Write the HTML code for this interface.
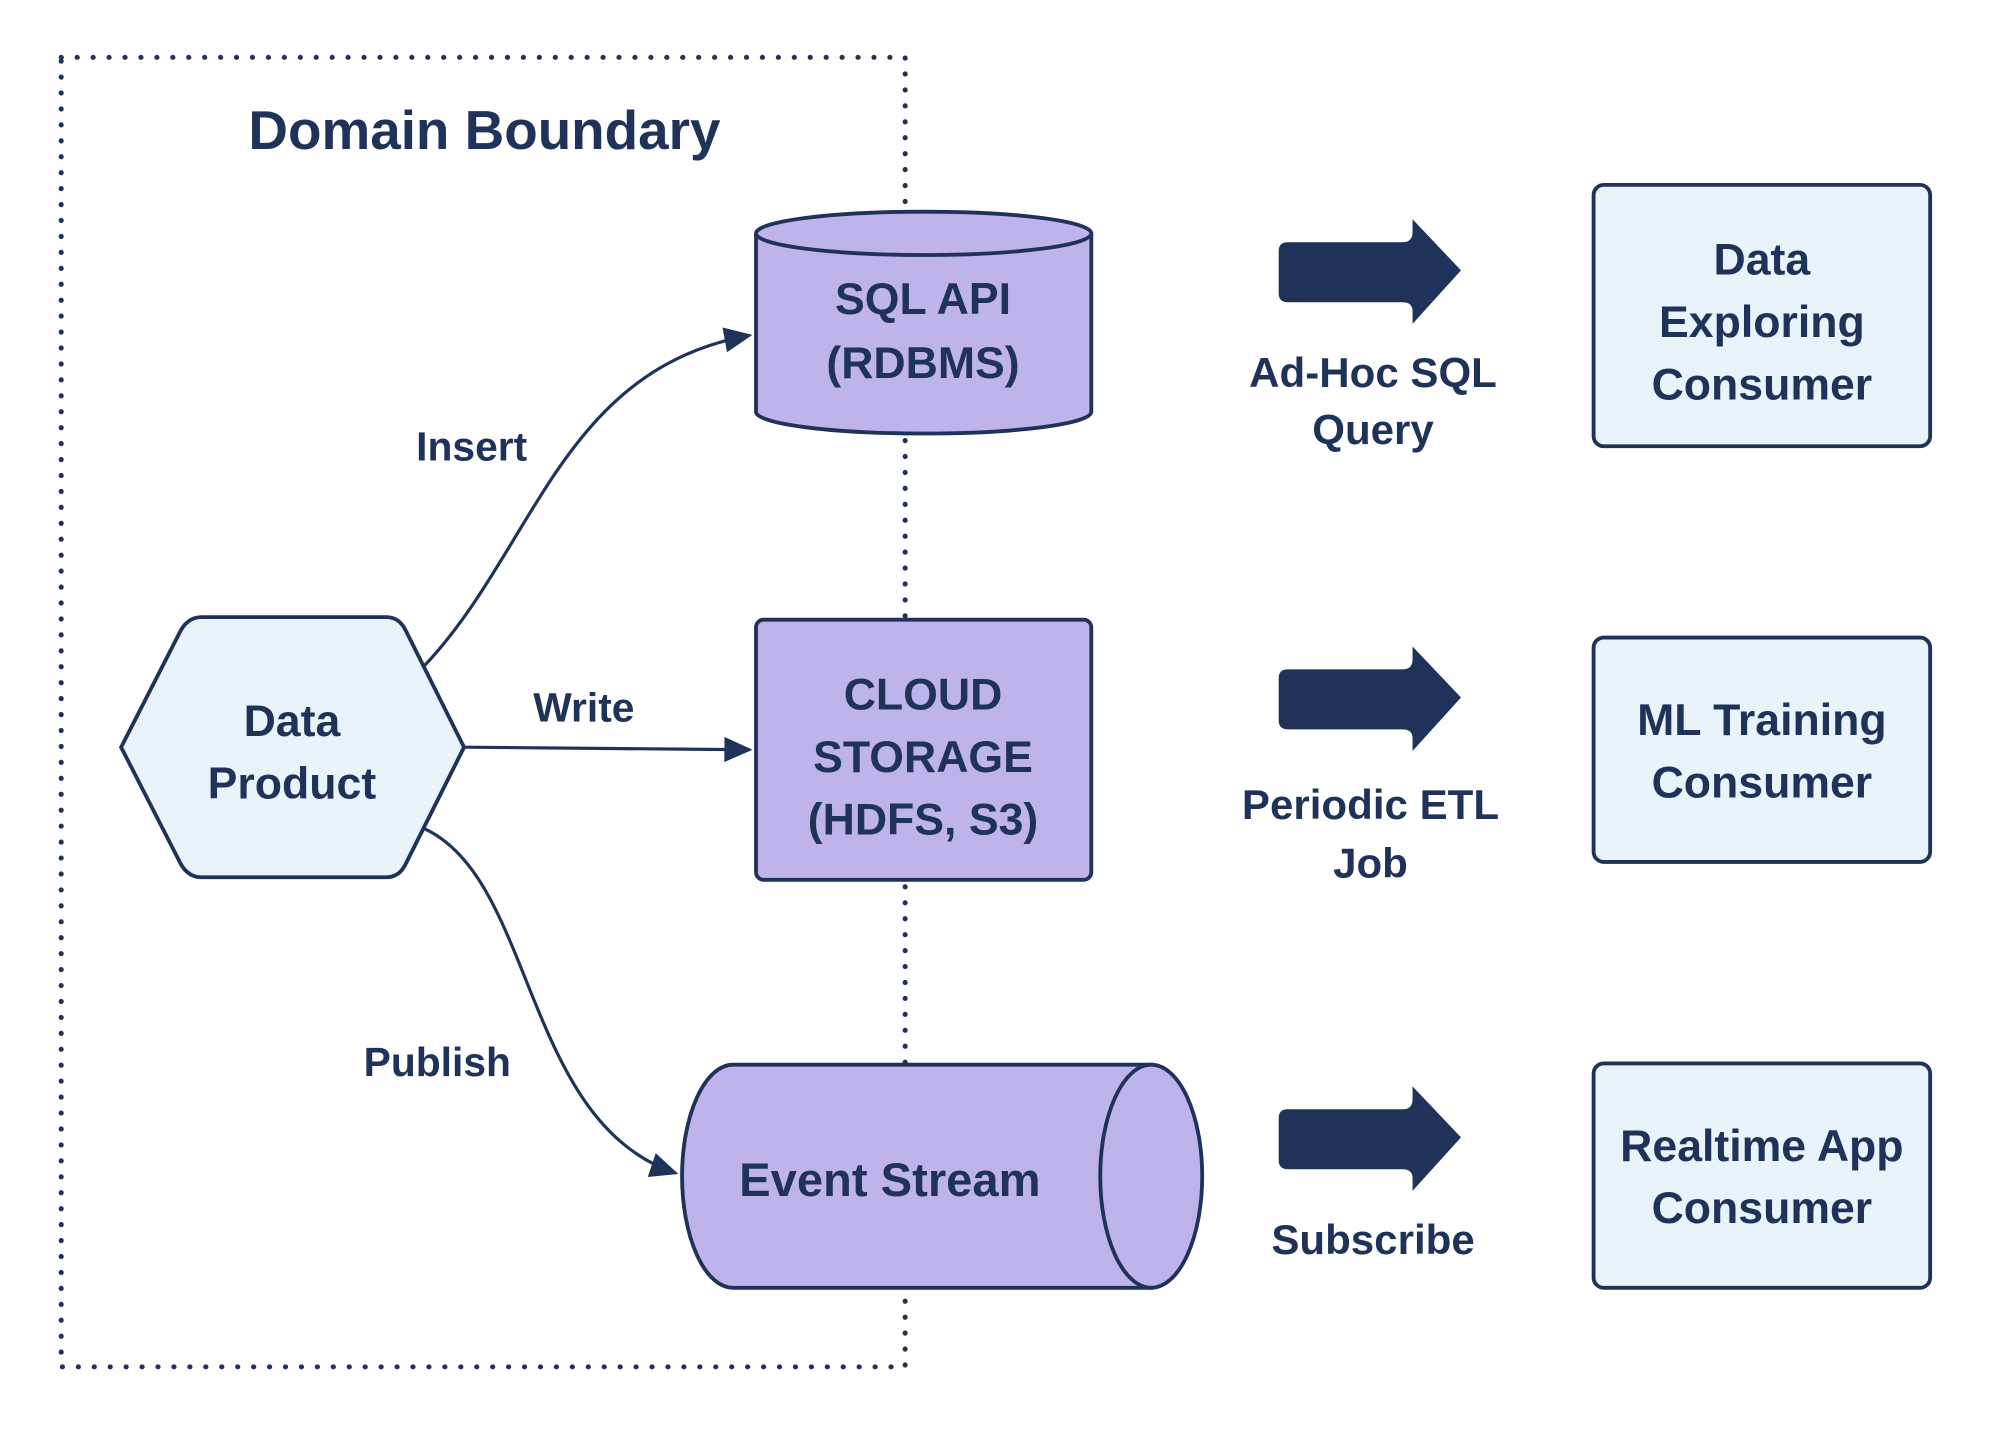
<!DOCTYPE html>
<html><head><meta charset="utf-8"><style>
html,body{margin:0;padding:0;background:#fff}
svg{display:block}
text{font-family:"Liberation Sans",sans-serif;font-weight:bold;fill:#1f3259;text-anchor:middle;dominant-baseline:central}
</style></head><body>
<svg width="1999" height="1437" viewBox="0 0 1568 1127" preserveAspectRatio="none" xmlns="http://www.w3.org/2000/svg">
<defs>
<marker id="ah2" viewBox="0 0 10 10" refX="9" refY="5" markerWidth="26" markerHeight="22" markerUnits="userSpaceOnUse" orient="auto">
<path d="M0,0.5 L10,5 L0,9.5 z" fill="#1f3259"/></marker>
</defs>
<rect width="1568" height="1127" fill="#fff"/>
<path d="M48,45 H710 V1072 H48 Z" fill="none" stroke="#1f3259" stroke-width="4" stroke-dasharray="0.1 12.4" stroke-linecap="round"/>
<text x="380" y="102" font-size="43">Domain Boundary</text>

<path d="M333,522 C420,430 440,290 588,263" fill="none" stroke="#1f3259" stroke-width="2.5" marker-end="url(#ah2)"/>
<path d="M364,586 L588,588" fill="none" stroke="#1f3259" stroke-width="2.5" marker-end="url(#ah2)"/>
<path d="M333,650 C420,690 410,880 530,920" fill="none" stroke="#1f3259" stroke-width="2.5" marker-end="url(#ah2)"/>
<text x="370" y="350" font-size="32">Insert</text>
<text x="458" y="555" font-size="32">Write</text>
<text x="343" y="833" font-size="32">Publish</text>

<path d="M95,586 L142,494 Q148,484 158,484 L303,484 Q313,484 318,494 L364,586 L318,678 Q313,688 303,688 L158,688 Q148,688 142,678 Z" fill="#e8f3fa" stroke="#1f3259" stroke-width="3"/>
<text x="229" y="566" font-size="35">Data</text>
<text x="229" y="615" font-size="35">Product</text>

<path d="M593,183 V323 A131.5,17 0 0 0 856,323 V183" fill="#bfb3ec" stroke="#1f3259" stroke-width="3"/>
<ellipse cx="724.5" cy="183" rx="131.5" ry="17" fill="#bfb3ec" stroke="#1f3259" stroke-width="3"/>
<text x="724" y="235" font-size="35">SQL API</text>
<text x="724" y="285" font-size="35">(RDBMS)</text>

<rect x="593" y="486" width="263" height="204" rx="6" fill="#bfb3ec" stroke="#1f3259" stroke-width="3"/>
<text x="724" y="545" font-size="35">CLOUD</text>
<text x="724" y="594" font-size="35">STORAGE</text>
<text x="724" y="643" font-size="35">(HDFS, S3)</text>

<path d="M575,835 H903 V1010 H575 A40,87.5 0 0 1 575,835 Z" fill="#bfb3ec" stroke="#1f3259" stroke-width="3"/>
<ellipse cx="903" cy="922.5" rx="40" ry="87.5" fill="#bfb3ec" stroke="#1f3259" stroke-width="3"/>
<text x="698" y="925" font-size="37">Event Stream</text>

<g fill="#1f3259">
<path d="M1010,190 H1100 Q1108,190 1108,182 V172 L1146,212 L1108,254 V244 Q1108,237 1100,237 H1010 Q1003,237 1003,230 V197 Q1003,190 1010,190 Z"/>
<path d="M1010,525 H1100 Q1108,525 1108,517 V507 L1146,547 L1108,589 V579 Q1108,572 1100,572 H1010 Q1003,572 1003,565 V532 Q1003,525 1010,525 Z"/>
<path d="M1010,870 H1100 Q1108,870 1108,862 V852 L1146,892 L1108,934 V924 Q1108,917 1100,917 H1010 Q1003,917 1003,910 V877 Q1003,870 1010,870 Z"/>
</g>
<text x="1077" y="292" font-size="33">Ad-Hoc SQL</text>
<text x="1077" y="337" font-size="33">Query</text>
<text x="1075" y="631" font-size="33">Periodic ETL</text>
<text x="1075" y="677" font-size="33">Job</text>
<text x="1077" y="972" font-size="33">Subscribe</text>

<rect x="1250" y="145" width="264" height="205" rx="8" fill="#e8f3fa" stroke="#1f3259" stroke-width="3"/>
<text x="1382" y="204" font-size="35">Data</text>
<text x="1382" y="253" font-size="35">Exploring</text>
<text x="1382" y="302" font-size="35">Consumer</text>
<rect x="1250" y="500" width="264" height="176" rx="8" fill="#e8f3fa" stroke="#1f3259" stroke-width="3"/>
<text x="1382" y="565" font-size="35">ML Training</text>
<text x="1382" y="614" font-size="35">Consumer</text>
<rect x="1250" y="834" width="264" height="176" rx="8" fill="#e8f3fa" stroke="#1f3259" stroke-width="3"/>
<text x="1382" y="899" font-size="35">Realtime App</text>
<text x="1382" y="948" font-size="35">Consumer</text>
</svg>
</body></html>
